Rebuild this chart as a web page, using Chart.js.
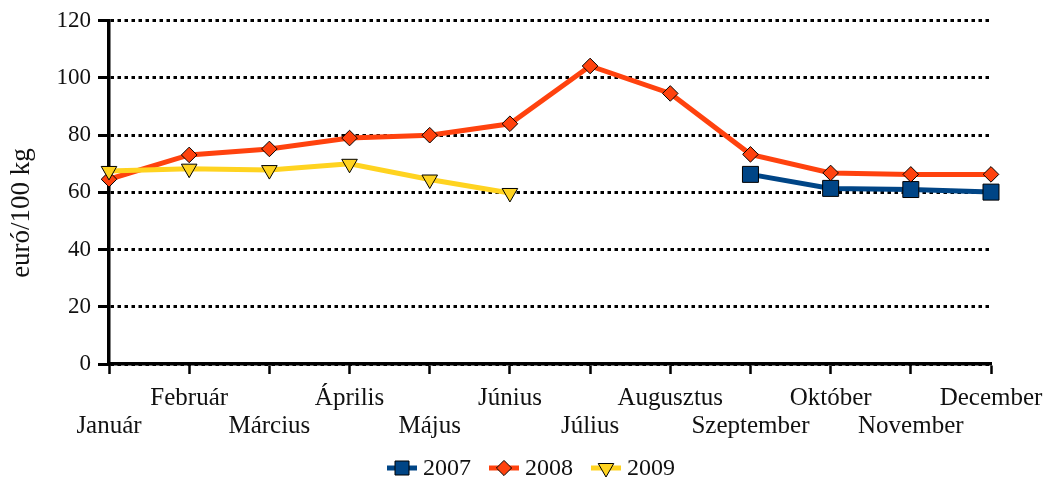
<!DOCTYPE html>
<html><head><meta charset="utf-8">
<script src="https://cdn.jsdelivr.net/npm/chart.js@4.4.1/dist/chart.umd.min.js"></script>
<style>html,body{margin:0;padding:0;background:#fff}#wrap{width:1046px;height:482px;position:relative}</style>
</head><body><div id="wrap"><canvas id="c" width="1046" height="482"></canvas></div>
<script>
const months = ['Január','Február','Március','Április','Május','Június','Július','Augusztus','Szeptember','Október','November','December'];
const seriesNames = ['2007','2008','2009'];
const values2007 = [null,null,null,null,null,null,null,null,66.3,61.4,61.0,60.1];
const values2008 = [64.6,73.1,75.2,79.0,80.0,84.0,104.2,94.6,73.3,66.8,66.3,66.3];
const values2009 = [67.5,68.3,67.8,70.0,64.5,59.8,null,null,null,null,null,null];
const yTickValues = [0,20,40,60,80,100,120];
const yTitle = 'euró/100 kg';

const FONT = '"Liberation Serif", "Times New Roman", serif';
const TEXT = '#111';
const colors = ['#004586','#FF420E','#FFD320'];
const styles = [
  {pointStyle:'rect', radius:11.3, rotation:0},
  {pointStyle:'rectRot', radius:7.8, rotation:0},
  {pointStyle:'triangle', radius:9, rotation:180}
];

function ds(i, data, order){
  return {
    label: seriesNames[i], data: data,
    borderColor: colors[i], backgroundColor: colors[i], borderWidth: 5,
    pointStyle: styles[i].pointStyle, pointRadius: styles[i].radius, pointRotation: styles[i].rotation,
    pointBorderColor: '#000', pointBorderWidth: 1, pointBackgroundColor: colors[i],
    pointHoverRadius: styles[i].radius,
    tension: 0, spanGaps: false, clip: false, order: order
  };
}

function drawMarker(ctx, i, cx, cy){
  ctx.fillStyle = colors[i]; ctx.strokeStyle = '#000'; ctx.lineWidth = 1;
  ctx.beginPath();
  if (i === 0) {
    const h = 7; ctx.rect(cx - h, cy - h, 2*h, 2*h);
  } else if (i === 1) {
    const r = 7.6; ctx.moveTo(cx, cy - r); ctx.lineTo(cx + r, cy); ctx.lineTo(cx, cy + r); ctx.lineTo(cx - r, cy); ctx.closePath();
  } else {
    const r = 9; ctx.moveTo(cx - r*0.866, cy - r/2); ctx.lineTo(cx + r*0.866, cy - r/2); ctx.lineTo(cx, cy + r); ctx.closePath();
  }
  ctx.fill(); ctx.stroke();
}

const extrasPlugin = {
  id: 'extras',
  afterDraw(chart){
    const ctx = chart.ctx;
    // y-axis title
    ctx.save();
    ctx.translate(22, 213);
    ctx.rotate(-Math.PI/2);
    ctx.font = '27px ' + FONT;
    ctx.fillStyle = TEXT;
    ctx.textAlign = 'center'; ctx.textBaseline = 'middle';
    ctx.fillText(yTitle, 0, 0);
    ctx.restore();
    // legend
    ctx.save();
    ctx.font = '24px ' + FONT;
    ctx.textBaseline = 'middle'; ctx.textAlign = 'left';
    const lineLen = 30, gapText = 6, gapItem = 18;
    const widths = seriesNames.map(n => lineLen + gapText + ctx.measureText(n).width);
    const total = widths.reduce((a,b)=>a+b,0) + gapItem*(seriesNames.length-1);
    let x = 531 - total/2;
    const cy = 468;
    seriesNames.forEach((n, i) => {
      ctx.strokeStyle = colors[i]; ctx.lineWidth = 5;
      ctx.beginPath(); ctx.moveTo(x, cy); ctx.lineTo(x + lineLen, cy); ctx.stroke();
      drawMarker(ctx, i, x + lineLen/2, cy);
      ctx.fillStyle = TEXT;
      ctx.fillText(n, x + lineLen + gapText, cy + 1);
      x += widths[i] + gapItem;
    });
    ctx.restore();
  }
};

new Chart(document.getElementById('c'), {
  type: 'line',
  data: {
    labels: months,
    datasets: [ds(0, values2007, 2), ds(1, values2008, 1), ds(2, values2009, 0)]
  },
  options: {
    responsive: false, animation: false,
    layout: {padding: {left: 0, right: 55, top: 10, bottom: 44}},
    plugins: {
      tooltip: {enabled: false},
      legend: {display: false}
    },
    scales: {
      x: {
        type: 'category', offset: false,
        afterFit(scale){ scale.height = 74; scale.paddingLeft = 0; scale.paddingRight = 0; },
        border: {display: true, color: '#000', width: 3.5},
        grid: {display: true, drawOnChartArea: false, drawTicks: true, tickLength: 10, tickColor: '#000', tickWidth: 2.5},
        ticks: {
          autoSkip: false, maxRotation: 0, minRotation: 0, padding: 10,
          font: {family: FONT, size: 25, lineHeight: '28px'}, color: TEXT,
          callback: function(v, i){ return i % 2 === 0 ? ['', months[i]] : [months[i], '']; }
        }
      },
      y: {
        min: 0, max: 120,
        afterBuildTicks(scale){ scale.ticks = yTickValues.map(v => ({value: v})); },
        afterFit(scale){ scale.width = 109; },
        border: {display: true, color: '#000', width: 3.5, dash: [3.5,3.5]},
        grid: {display: true, drawOnChartArea: true, color: '#000', lineWidth: 3, drawTicks: true, tickLength: 11, tickColor: '#000', tickWidth: 3, tickBorderDash: []},
        ticks: {padding: 7, font: {family: FONT, size: 23}, color: TEXT}
      }
    }
  },
  plugins: [extrasPlugin]
});
</script>
</body></html>
